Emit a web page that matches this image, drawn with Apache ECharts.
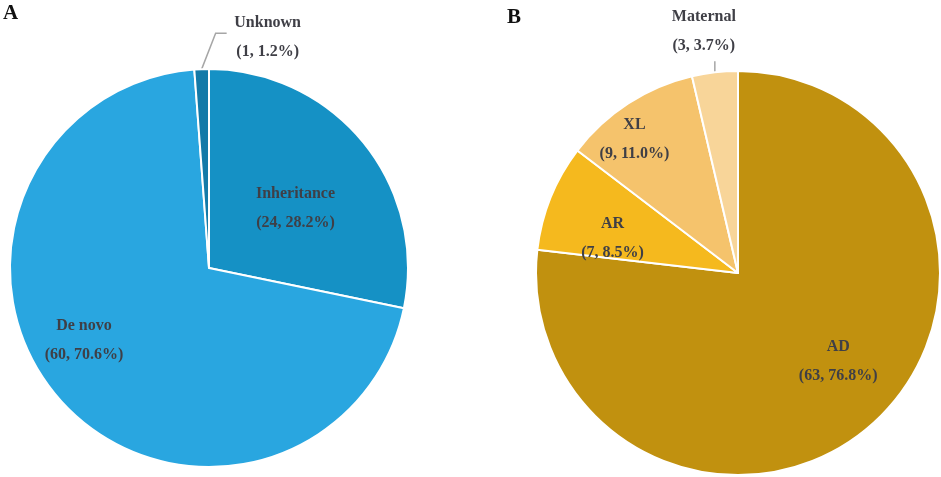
<!DOCTYPE html>
<html>
<head>
<meta charset="utf-8">
<script src="https://cdn.jsdelivr.net/npm/echarts@6/dist/echarts.min.js"></script>
<style>
html,body{margin:0;padding:0;background:#fff;}
#chart{width:941px;height:477px;}
</style>
</head>
<body>
<div id="chart"></div>
<script>
// ---- data ----
var namesA = ['Inheritance', 'De novo', 'Unknown'];
var valuesA = [24, 60, 1];
var namesB = ['AD', 'AR', 'XL', 'Maternal'];
var valuesB = [63, 7, 9, 3];
var panelLabels = ['A', 'B'];

// ---- styles ----
var colorsA = ['#1591C5', '#29A6E0', '#137AA8'];
var colorsB = ['#C1910F', '#F5B91E', '#F5C36C', '#F8D599'];
var outsideNames = ['Unknown', 'Maternal'];
var insideShift = {
  'Inheritance': [7, 5],
  'De novo': [-48, 5],
  'AD': [31, 11],
  'AR': [-29, 4],
  'XL': [-47, -46]
};
var FONT = '"Liberation Serif", "Times New Roman", serif';

function buildData(names, values, colors) {
  return names.map(function (n, i) {
    var item = { name: n, value: values[i], itemStyle: { color: colors[i] } };
    if (outsideNames.indexOf(n) >= 0) {
      item.label = { position: 'outside' };
      item.labelLine = { show: true };
    }
    return item;
  });
}

function fmt(p) {
  return p.name + '\n(' + p.value + ', ' + p.percent.toFixed(1) + '%)';
}

function layoutFn(params) {
  var name = params.text.split('\n')[0];
  if (name === 'Unknown' && params.labelLinePoints) {
    var p0 = params.labelLinePoints[0];
    var p1 = [p0[0] + 14, p0[1] - 36];
    var p2 = [p1[0] + 11, p1[1]];
    return { x: p2[0] + 41, y: p2[1] + 4, align: 'center', verticalAlign: 'middle',
             labelLinePoints: [p0, p1, p2] };
  }
  if (name === 'Maternal' && params.labelLinePoints) {
    var q0 = params.labelLinePoints[0];
    var q1 = [q0[0], q0[1] - 11];
    return { x: q0[0] - 11, y: q1[1] - 30, align: 'center', verticalAlign: 'middle',
             labelLinePoints: [q0, q1, q1] };
  }
  var s = insideShift[name];
  if (s) return { dx: s[0], dy: s[1] };
  return {};
}

function pieSeries(names, values, colors, center, radius) {
  return {
    type: 'pie',
    center: center,
    radius: radius,
    startAngle: 90,
    clockwise: true,
    avoidLabelOverlap: false,
    percentPrecision: 1,
    animation: false,
    itemStyle: { borderColor: '#ffffff', borderWidth: 2 },
    label: {
      show: true,
      position: 'inside',
      formatter: fmt,
      color: '#3f3f46',
      fontFamily: FONT,
      fontWeight: 'bold',
      fontSize: 16,
      lineHeight: 29,
      align: 'center',
      textBorderWidth: 0
    },
    labelLine: { show: false, length: 11, length2: 10, lineStyle: { color: '#A6A6A6', width: 1.5 } },
    emphasis: { disabled: true },
    labelLayout: layoutFn,
    data: buildData(names, values, colors)
  };
}

var chart = echarts.init(document.getElementById('chart'), null, { renderer: 'canvas' });
chart.setOption({
  backgroundColor: '#ffffff',
  animation: false,
  title: [
    { text: panelLabels[0], left: -2, top: -2,
      textStyle: { fontFamily: FONT, fontWeight: 'bold', fontSize: 21, color: '#111111' } },
    { text: panelLabels[1], left: 502, top: 2,
      textStyle: { fontFamily: FONT, fontWeight: 'bold', fontSize: 21, color: '#111111' } }
  ],
  series: [
    pieSeries(namesA, valuesA, colorsA, [209, 268], 199),
    pieSeries(namesB, valuesB, colorsB, [738, 273], 202)
  ]
});
</script>
</body>
</html>
